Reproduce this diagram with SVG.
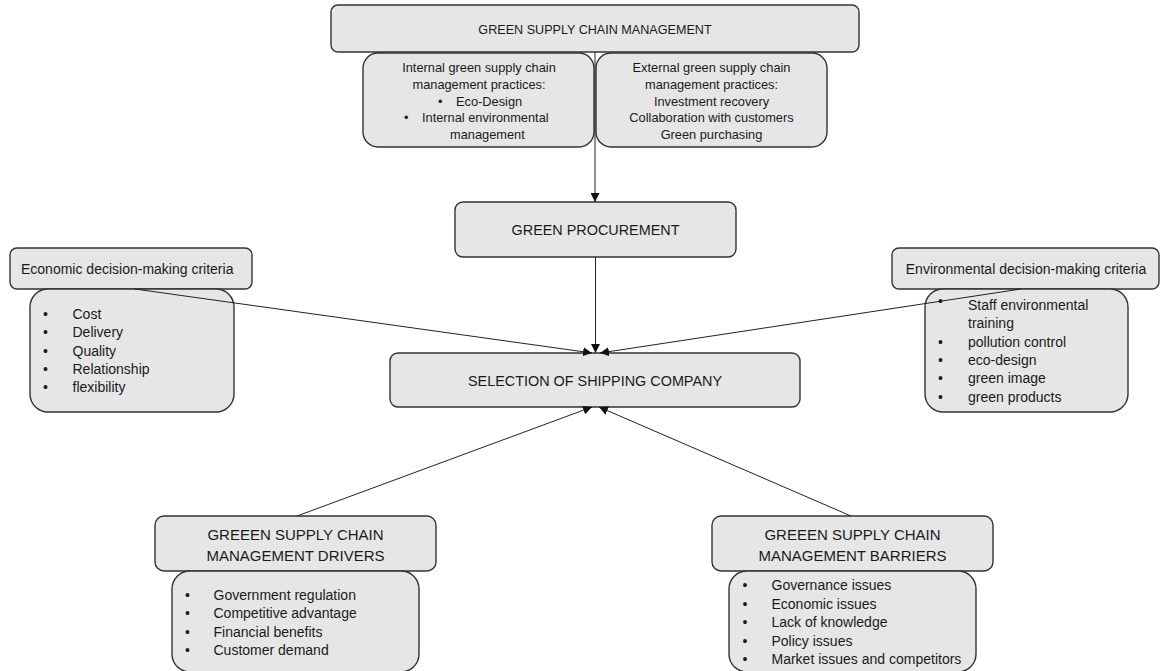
<svg xmlns="http://www.w3.org/2000/svg" width="1160" height="671" viewBox="0 0 1160 671">
<defs>
<style>
.box{fill:#e6e6e6;stroke:#333;stroke-width:1.4}
.t{font-family:"Liberation Sans",Arial,sans-serif;fill:#1a1a1a}
.c{text-anchor:middle}
.s13{font-size:12.8px}
.s14{font-size:14px}
.s145{font-size:14.4px}
.s15{font-size:15px}
.s126{font-size:12.6px}
.conn{stroke:#222;stroke-width:1;fill:none;marker-end:url(#ah)}
</style>
<marker id="ah" viewBox="0 0 10 10" refX="10" refY="5" markerWidth="9" markerHeight="9" markerUnits="userSpaceOnUse" orient="auto">
<path d="M0,0 L10,5 L0,10 z" fill="#111"/>
</marker>
</defs>
<rect width="1160" height="671" fill="#fff"/>

<g id="gscm">
<rect class="box" x="331" y="5" width="528" height="47" rx="7"/>
<text class="t c s126" x="595" y="34">GREEN SUPPLY CHAIN MANAGEMENT</text>
</g>

<g id="internal">
<rect class="box" x="363" y="53" width="231" height="94" rx="15"/>
<text class="t c s13" x="479" y="72">Internal green supply chain</text>
<text class="t c s13" x="479" y="89">management practices:</text>
<text class="t s13" x="438" y="105.5">•</text>
<text class="t s13" x="456" y="105.5">Eco-Design</text>
<text class="t s13" x="404" y="122">•</text>
<text class="t s13" x="422" y="122">Internal environmental</text>
<text class="t s13" x="450" y="139">management</text>
</g>

<g id="external">
<rect class="box" x="596" y="53" width="231" height="94" rx="15"/>
<text class="t c s13" x="711.5" y="72">External green supply chain</text>
<text class="t c s13" x="711.5" y="89">management practices:</text>
<text class="t c s13" x="711.5" y="105.5">Investment recovery</text>
<text class="t c s13" x="711.5" y="122">Collaboration with customers</text>
<text class="t c s13" x="711.5" y="139">Green purchasing</text>
</g>

<g id="procurement">
<rect class="box" x="455" y="202" width="281" height="55" rx="8"/>
<text class="t c s145" x="595.5" y="235">GREEN PROCUREMENT</text>
</g>

<g id="selection">
<rect class="box" x="390" y="353" width="410" height="54" rx="8"/>
<text class="t c s145" x="595" y="385.5">SELECTION OF SHIPPING COMPANY</text>
</g>

<g id="economic">
<rect class="box" x="10" y="248" width="242" height="41" rx="7"/>
<text class="t s14" x="21" y="274">Economic decision-making criteria</text>
</g>

<g id="economic-list">
<rect class="box" x="30" y="289" width="204" height="123" rx="18"/>
<text class="t s14" x="43" y="318.5">•</text><text class="t s14" x="72.5" y="318.5">Cost</text>
<text class="t s14" x="43" y="337">•</text><text class="t s14" x="72.5" y="337">Delivery</text>
<text class="t s14" x="43" y="355.5">•</text><text class="t s14" x="72.5" y="355.5">Quality</text>
<text class="t s14" x="43" y="374">•</text><text class="t s14" x="72.5" y="374">Relationship</text>
<text class="t s14" x="43" y="392">•</text><text class="t s14" x="72.5" y="392">flexibility</text>
</g>

<g id="environmental">
<rect class="box" x="892" y="248" width="267" height="41" rx="7"/>
<text class="t c s14" x="1026" y="274">Environmental decision-making criteria</text>
</g>

<g id="environmental-list">
<rect class="box" x="925" y="289" width="203" height="123" rx="18"/>
<text class="t s14" x="938" y="306">•</text><text class="t s14" x="968" y="309.5">Staff environmental</text>
<text class="t s14" x="968" y="328">training</text>
<text class="t s14" x="938" y="346.5">•</text><text class="t s14" x="968" y="346.5">pollution control</text>
<text class="t s14" x="938" y="365">•</text><text class="t s14" x="968" y="365">eco-design</text>
<text class="t s14" x="938" y="383">•</text><text class="t s14" x="968" y="383">green image</text>
<text class="t s14" x="938" y="401.5">•</text><text class="t s14" x="968" y="401.5">green products</text>
</g>

<g id="drivers">
<rect class="box" x="155" y="516" width="281" height="55" rx="9"/>
<text class="t c s15" x="295.5" y="539.5">GREEEN SUPPLY CHAIN</text>
<text class="t c s15" x="295.5" y="560.5">MANAGEMENT DRIVERS</text>
</g>

<g id="drivers-list">
<rect class="box" x="172" y="571" width="247" height="101" rx="18"/>
<text class="t s14" x="185" y="599.5">•</text><text class="t s14" x="213.5" y="599.5">Government regulation</text>
<text class="t s14" x="185" y="618">•</text><text class="t s14" x="213.5" y="618">Competitive advantage</text>
<text class="t s14" x="185" y="636.5">•</text><text class="t s14" x="213.5" y="636.5">Financial benefits</text>
<text class="t s14" x="185" y="655">•</text><text class="t s14" x="213.5" y="655">Customer demand</text>
</g>

<g id="barriers">
<rect class="box" x="712" y="516" width="281" height="55" rx="9"/>
<text class="t c s15" x="852.5" y="539.5">GREEEN SUPPLY CHAIN</text>
<text class="t c s15" x="852.5" y="560.5">MANAGEMENT BARRIERS</text>
</g>

<g id="barriers-list">
<rect class="box" x="729" y="571" width="247" height="101" rx="18"/>
<text class="t s14" x="742.5" y="590">•</text><text class="t s14" x="771.5" y="590">Governance issues</text>
<text class="t s14" x="742.5" y="608.5">•</text><text class="t s14" x="771.5" y="608.5">Economic issues</text>
<text class="t s14" x="742.5" y="627">•</text><text class="t s14" x="771.5" y="627">Lack of knowledge</text>
<text class="t s14" x="742.5" y="645.5">•</text><text class="t s14" x="771.5" y="645.5">Policy issues</text>
<text class="t s14" x="742.5" y="664">•</text><text class="t s14" x="771.5" y="664">Market issues and competitors</text>
</g>

<g id="connectors">
<line class="conn" x1="595" y1="52" x2="595" y2="202"/>
<line class="conn" x1="595.5" y1="257" x2="595.5" y2="353"/>
<line class="conn" x1="135" y1="289" x2="592" y2="353"/>
<line class="conn" x1="1021" y1="289" x2="600" y2="353"/>
<line class="conn" x1="297" y1="516" x2="592" y2="407"/>
<line class="conn" x1="851" y1="516" x2="599" y2="407"/>
</g>
</svg>
